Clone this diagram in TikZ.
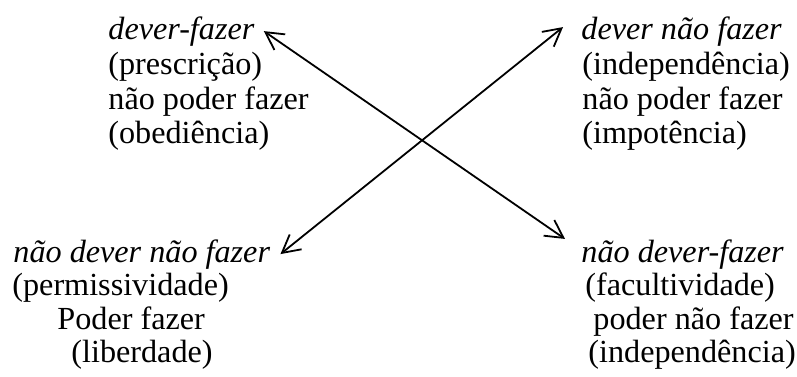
\documentclass[tikz,border=0pt]{standalone}
\usepackage{fontspec}
\setmainfont{Liberation Serif}
\usetikzlibrary{arrows.meta}

\begin{document}
\begin{tikzpicture}[
		x=0.5pt, y=-0.5pt,
		txt/.style={anchor=base west, inner sep=0pt, font=\fontsize{16.1}{17}\selectfont},
		head/.style={txt, font=\fontsize{16.1}{17}\selectfont\itshape},
		link/.style={{Straight Barb[length=8.8pt,width=9.5pt]}-{Straight Barb[length=8.8pt,width=9.5pt]}, line width=0.9pt}
		]
		\useasboundingbox (0,0) rectangle (797,376);
		
		% Top left: dever-fazer
		\node[head] (tl) at (108,39) {dever-fazer};
		\node[txt] (tl1) at (108,74) {(prescrição)};
		\node[txt] (tl2) at (108,109) {não poder fazer};
		\node[txt] (tl3) at (108,143) {(obediência)};
		
		% Top right: dever nao fazer
		\node[head] (tr) at (581,39) {dever não fazer};
		\node[txt] (tr1) at (582,74) {(independência)};
		\node[txt] (tr2) at (582,109) {não poder fazer};
		\node[txt] (tr3) at (582,143) {(impotência)};
		
		% Bottom left: nao dever nao fazer
		\node[head] (bl) at (13,262) {não dever não fazer};
		\node[txt] (bl1) at (12,295) {(permissividade)};
		\node[txt] (bl2) at (57,329) {Poder fazer};
		\node[txt] (bl3) at (71,362) {(liberdade)};
		
		% Bottom right: nao dever-fazer
		\node[head] (br) at (581,262) {não dever-fazer};
		\node[txt] (br1) at (585,295) {(facultividade)};
		\node[txt] (br2) at (593,329) {poder não fazer};
		\node[txt] (br3) at (588,362) {(independência)};
		
		% Diagonals
		\draw[link] ([xshift=4.5pt]tl.east) -- ([xshift=-8pt]br.north west);
		\draw[link] ([xshift=5pt]bl.east) -- ([xshift=-9pt,yshift=2pt]tr.west);
		
	\end{tikzpicture}
\end{document}
